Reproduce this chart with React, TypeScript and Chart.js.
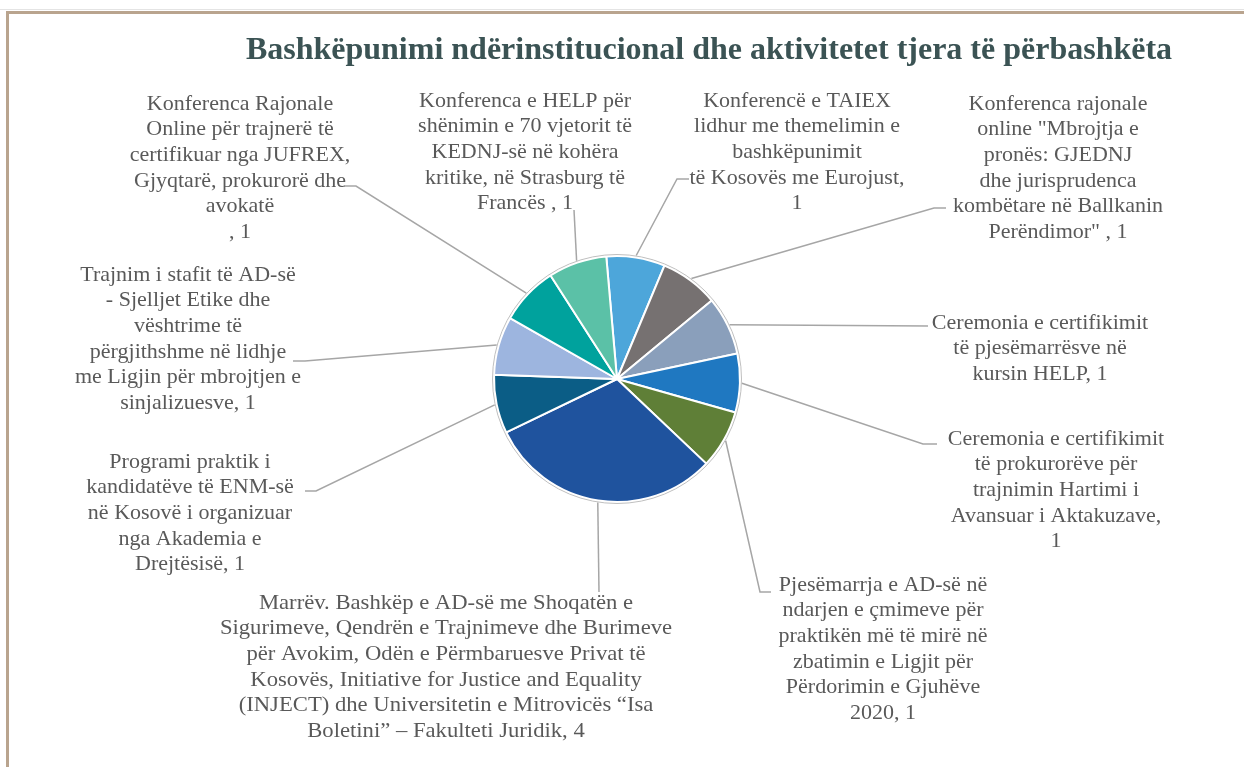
import React, { useEffect, useRef } from "react";
import { Chart, registerables } from "chart.js";

Chart.register(...registerables);

const TITLE = "Bashkëpunimi ndërinstitucional dhe aktivitetet tjera të përbashkëta";

const CATEGORIES = [
  "Konferencë e TAIEX\nlidhur me themelimin e\nbashkëpunimit\ntë Kosovës me Eurojust",
  "Konferenca rajonale\nonline \"Mbrojtja e\npronës: GJEDNJ\ndhe jurisprudenca\nkombëtare në Ballkanin\nPerëndimor\" ",
  "Ceremonia e certifikimit\ntë pjesëmarrësve në\nkursin HELP",
  "Ceremonia e certifikimit\ntë prokurorëve për\ntrajnimin Hartimi i\nAvansuar i Aktakuzave",
  "Pjesëmarrja e AD-së në\nndarjen e çmimeve për\npraktikën më të mirë në\nzbatimin e Ligjit për\nPërdorimin e Gjuhëve\n2020",
  "Marrëv. Bashkëp e AD-së me Shoqatën e\nSigurimeve, Qendrën e Trajnimeve dhe Burimeve\npër Avokim, Odën e Përmbaruesve Privat të\nKosovës, Initiative for Justice and Equality\n(INJECT) dhe Universitetin e Mitrovicës “Isa\nBoletini” – Fakulteti Juridik",
  "Programi praktik i\nkandidatëve të ENM-së\nnë Kosovë i organizuar\nnga Akademia e\nDrejtësisë",
  "Trajnim i stafit të AD-së\n- Sjelljet Etike dhe\nvështrime të\npërgjithshme në lidhje\nme Ligjin për mbrojtjen e\nsinjalizuesve",
  "Konferenca Rajonale\nOnline për trajnerë të\ncertifikuar nga JUFREX,\nGjyqtarë, prokurorë dhe\navokatë\n",
  "Konferenca e HELP për\nshënimin e 70 vjetorit të\nKEDNJ-së në kohëra\nkritike, në Strasburg të\nFrancës ",
];

const VALUES = [1, 1, 1, 1, 1, 4, 1, 1, 1, 1];

const COLORS = [
  "#4DA6DA",
  "#767171",
  "#8A9FBB",
  "#1F78C1",
  "#5F7F37",
  "#1F539E",
  "#0B5D86",
  "#9DB5DF",
  "#00A29D",
  "#5BC1A7",
];

// separator between category name and value in each data label
const LABEL_SEPARATORS = [",\n", ", ", ", ", ",\n", ", ", ", ", ", ", ", ", ", ", ", "];

// label placement (center x, first line center y, horizontal scale) and leader elbow points near the label
const LABEL_LAYOUT = [
  { x: 797, y: 101, sx: 1, leader: [[689, 179], [677, 179]] },
  { x: 1058, y: 104, sx: 1, leader: [[946, 208], [934, 208]] },
  { x: 1040, y: 323, sx: 1, leader: [[928, 326]] },
  { x: 1056, y: 439, sx: 1, leader: [[937, 444], [923, 444]] },
  { x: 883, y: 585, sx: 1, leader: [[771, 592], [760, 592]] },
  { x: 446, y: 603, sx: 1.03, leader: [[599, 592]] },
  { x: 190, y: 462, sx: 1, leader: [[305, 491], [316, 491]] },
  { x: 188, y: 275, sx: 1, leader: [[293, 361], [305, 361]] },
  { x: 240, y: 104, sx: 1, leader: [[344, 186], [356, 186]] },
  { x: 525, y: 101, sx: 1, leader: [[574, 210]] },
];

const LINE_HEIGHT = 25.6;
const LABEL_FONT = '22px "Liberation Serif", "Times New Roman", serif';
const TITLE_FONT = 'bold 32px "Liberation Serif", "Times New Roman", serif';
const TEXT_COLOR = "#595959";
const TITLE_COLOR = "#3B5354";
const LEADER_COLOR = "#A6A6A6";
const RING_COLOR = "#BFBFBF";

export default function App() {
  const ref = useRef<HTMLCanvasElement>(null);

  useEffect(() => {
    document.body.style.margin = "0";
    const canvas = ref.current;
    if (!canvas) return;

    const labelPlugin = {
      id: "excelLabels",
      afterDatasetsDraw(chart: any) {
        const ctx = chart.ctx as CanvasRenderingContext2D;
        const meta = chart.getDatasetMeta(0);
        ctx.save();

        // title
        ctx.font = TITLE_FONT;
        ctx.fillStyle = TITLE_COLOR;
        ctx.textAlign = "center";
        ctx.textBaseline = "alphabetic";
        ctx.fillText(TITLE, 709, 59);

        // outer ring of the pie
        const first = meta.data[0] as any;
        ctx.beginPath();
        ctx.arc(first.x, first.y, first.outerRadius + 1.5, 0, Math.PI * 2);
        ctx.strokeStyle = RING_COLOR;
        ctx.lineWidth = 1;
        ctx.stroke();

        // leader lines
        ctx.strokeStyle = LEADER_COLOR;
        ctx.lineWidth = 1.5;
        meta.data.forEach((arc: any, i: number) => {
          const mid = (arc.startAngle + arc.endAngle) / 2;
          const r = arc.outerRadius + 2;
          const px = arc.x + Math.cos(mid) * r;
          const py = arc.y + Math.sin(mid) * r;
          const pts = LABEL_LAYOUT[i].leader;
          ctx.beginPath();
          ctx.moveTo(pts[0][0], pts[0][1]);
          for (let k = 1; k < pts.length; k++) ctx.lineTo(pts[k][0], pts[k][1]);
          ctx.lineTo(px, py);
          ctx.stroke();
        });

        // label text
        ctx.font = LABEL_FONT;
        ctx.fillStyle = TEXT_COLOR;
        ctx.textAlign = "center";
        ctx.textBaseline = "middle";
        CATEGORIES.forEach((cat, i) => {
          const text = cat + LABEL_SEPARATORS[i] + String(VALUES[i]);
          const lines = text.split("\n");
          const lay = LABEL_LAYOUT[i];
          ctx.save();
          ctx.translate(lay.x, lay.y);
          ctx.scale(lay.sx, 1);
          lines.forEach((ln, j) => {
            ctx.fillText(ln, 0, j * LINE_HEIGHT);
          });
          ctx.restore();
        });

        ctx.restore();
      },
    };

    const chart = new Chart(canvas, {
      type: "pie",
      data: {
        labels: CATEGORIES,
        datasets: [
          {
            data: VALUES,
            backgroundColor: COLORS,
            borderColor: "#FFFFFF",
            borderWidth: 2,
            radius: 123,
          } as any,
        ],
      },
      options: {
        responsive: false,
        animation: false,
        rotation: -5,
        layout: { padding: { left: 494, right: 504, top: 256, bottom: 265 } },
        plugins: {
          legend: { display: false },
          tooltip: { enabled: false },
          title: { display: false },
        },
      },
      plugins: [labelPlugin],
    });

    return () => chart.destroy();
  }, []);

  return (
    <div style={{ position: "relative", width: 1244, height: 767, overflow: "hidden", background: "#FFFFFF" }}>
      <div
        style={{
          position: "absolute",
          left: 0,
          top: 9,
          width: 1300,
          height: 1,
          background: "#E4E4E4",
        }}
      />
      <div
        style={{
          position: "absolute",
          left: 6,
          top: 11,
          width: 1300,
          height: 800,
          borderTop: "3px solid #B9A48E",
          borderLeft: "3px solid #B9A48E",
        }}
      />
      <canvas
        ref={ref}
        width={1244}
        height={767}
        style={{ position: "absolute", left: 0, top: 0, display: "block" }}
      />
    </div>
  );
}
